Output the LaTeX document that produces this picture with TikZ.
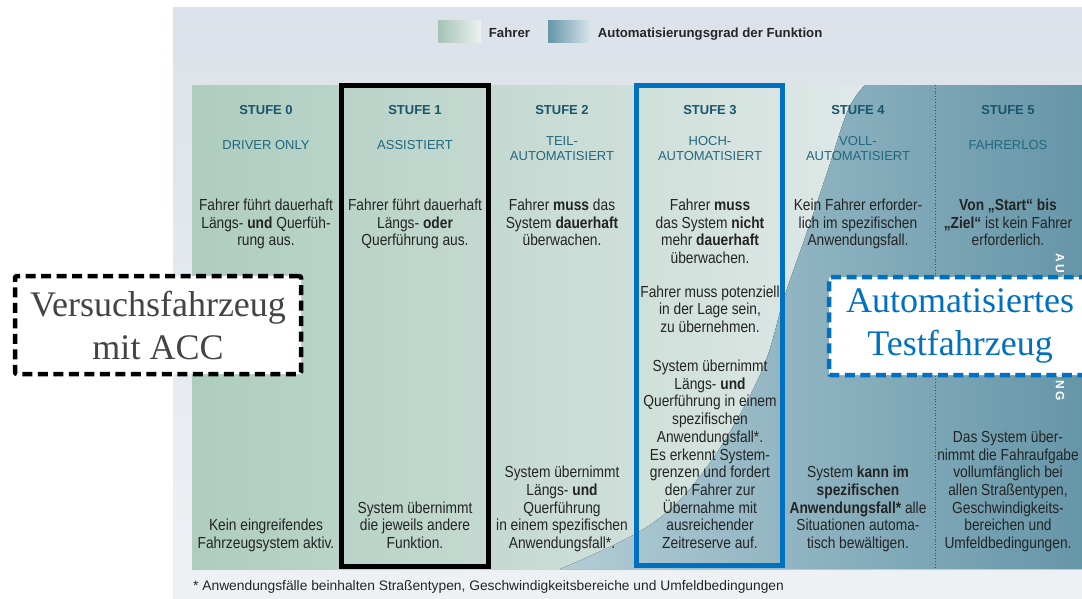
\documentclass[tikz,border=0pt]{standalone}
\usepackage{fontspec}
\setmainfont{Liberation Sans}
\newfontfamily\schmal[FakeStretch=0.86]{Liberation Sans}
\newfontfamily\gesperrt[LetterSpace=18]{Liberation Sans}
\newfontfamily\antiqua{Liberation Serif}
\usetikzlibrary{positioning}

\definecolor{hgoben}{HTML}{DCE2E9}
\definecolor{hgunten}{HTML}{EEF1F4}
\definecolor{gruen}{HTML}{AECDBF}
\definecolor{gruenhell}{HTML}{E0E9E8}
\definecolor{blauhell}{HTML}{B3CDD6}
\definecolor{blaudunkel}{HTML}{6596A8}
\definecolor{titelblau}{HTML}{17566C}
\definecolor{modusblau}{HTML}{22677D}
\definecolor{textgrau}{HTML}{242424}
\definecolor{rahmenblau}{HTML}{0070C0}
\definecolor{boxgrau}{HTML}{444444}

\begin{document}
\begin{tikzpicture}[
  x=1pt, y=-1pt,
  titel/.style={font=\fontsize{13}{15}\selectfont\bfseries, text=titelblau, inner sep=0pt, anchor=base},
  modus/.style={font=\fontsize{13}{15}\selectfont, text=modusblau, align=center, inner sep=0pt, anchor=base},
  beschr/.style={font=\schmal\fontsize{16}{17.7}\selectfont, text=textgrau, align=center, inner sep=0pt, anchor=base},
  fahrzeug/.style={fill=white, line width=4.5pt, dash pattern=on 10pt off 5.5pt, rounded corners=2pt, font=\antiqua\fontsize{36}{43}\selectfont, align=center, inner sep=0pt},
  feld/.style={minimum width=43pt, minimum height=22pt, inner sep=0pt},
  legende/.style={font=\fontsize{13.2}{15}\selectfont\bfseries, text=black!85, inner sep=0pt, text height=9.5pt, text depth=0pt},
]
  \useasboundingbox (0,0) rectangle (1082,598);
  \fill[white] (0,0) rectangle (1082,598);
  \fill[top color=hgoben, bottom color=hgunten] (173,7) rectangle (1082,598);

  % Spalten und Automatisierungsgrad
  \fill[left color=gruen, right color=gruenhell] (192,85) rectangle (870,569);
  \fill[left color=blauhell, right color=blaudunkel]
    plot[smooth, tension=0.6] coordinates {(560,569) (650,525) (707,467) (760,375) (785,295) (806,235) (828,170) (848,110) (865,85)}
    -- (1082,85) -- (1082,569) -- cycle;
  \draw[black!70, dotted, line width=0.8pt] (935,85) -- (935,569);
  \node[rotate=-90, text=white, font=\gesperrt\bfseries\fontsize{12}{12}\selectfont, inner sep=0pt] (randtext) at (1060,327) {AUTOMATISIERUNG};

  % Legende
  \node[feld, left color=gruen!95!black, right color=gruenhell!60!white] (fahrerfeld) at (459.5,31.7) {};
  \node[legende, right=7.5pt of fahrerfeld, yshift=-1.5pt] (fahrer) {Fahrer};
  \node[feld, left color=blaudunkel, right color=blauhell!50!white] (autofeld) at (569.5,31.7) {};
  \node[legende, right=6.5pt of autofeld, yshift=-1.5pt] (auto) {Automatisierungsgrad der Funktion};

  % Stufen
  \foreach \i/\x in {0/266,1/415,2/562,3/710,4/858,5/1008}
    \node[titel] (titel\i) at (\x,114.3) {STUFE \i};
  \node[modus] (modus0) at (266,149.3) {DRIVER ONLY};
  \node[modus] (modus1) at (415,149.3) {ASSISTIERT};
  \node[modus] (modus2) at (562,160) {TEIL-\\AUTOMATISIERT};
  \node[modus] (modus3) at (710,160) {HOCH-\\AUTOMATISIERT};
  \node[modus] (modus4) at (858,160) {VOLL-\\AUTOMATISIERT};
  \node[modus] (modus5) at (1008,149.3) {FAHRERLOS};

  \node[beschr] (s0oben) at (266,245.9) {Fahrer führt dauerhaft\\Längs- \textbf{und} Querfüh-\\rung aus.};
  \node[beschr] (s1oben) at (415,245.9) {Fahrer führt dauerhaft\\Längs- \textbf{oder}\\Querführung aus.};
  \node[beschr] (s2oben) at (562,245.9) {Fahrer \textbf{muss} das\\System \textbf{dauerhaft}\\überwachen.};
  \node[beschr] (s3oben) at (710,263.6) {Fahrer \textbf{muss}\\das System \textbf{nicht}\\mehr \textbf{dauerhaft}\\überwachen.};
  \node[beschr] (s4oben) at (858,245.9) {Kein Fahrer erforder-\\lich im spezifischen\\Anwendungsfall.};
  \node[beschr] (s5oben) at (1008,245.9) {\textbf{Von „Start“ bis}\\\textbf{„Ziel“} ist kein Fahrer\\erforderlich.};
  \node[beschr] (s3mitte) at (710,332.4) {Fahrer muss potenziell\\in der Lage sein,\\zu übernehmen.};

  \node[beschr] (s0unten) at (266,548.5) {Kein eingreifendes\\Fahrzeugsystem aktiv.};
  \node[beschr] (s1unten) at (415,548.5) {System übernimmt\\die jeweils andere\\Funktion.};
  \node[beschr] (s2unten) at (562,548.5) {System übernimmt\\Längs- \textbf{und}\\Querführung\\in einem spezifischen\\Anwendungsfall*.};
  \node[beschr] (s3unten) at (710,548.5) {System übernimmt\\Längs- \textbf{und}\\Querführung in einem\\spezifischen\\Anwendungsfall*.\\Es erkennt System-\\grenzen und fordert\\den Fahrer zur\\Übernahme mit\\ausreichender\\Zeitreserve auf.};
  \node[beschr] (s4unten) at (858,548.5) {System \textbf{kann im}\\\textbf{spezifischen}\\\textbf{Anwendungsfall*} alle\\Situationen automa-\\tisch bewältigen.};
  \node[beschr] (s5unten) at (1008,548.5) {Das System über-\\nimmt die Fahraufgabe\\vollumfänglich bei\\allen Straßentypen,\\Geschwindigkeits-\\bereichen und\\Umfeldbedingungen.};

  % Rahmen der Stufen 1 und 3
  \draw[line width=5pt] (341.5,85.5) rectangle (488,566);
  \draw[rahmenblau, line width=5pt] (636.5,85.5) rectangle (782.5,565);

  \node[font=\fontsize{13.8}{16}\selectfont, text=textgrau, anchor=base west, inner sep=0pt] (fussnote) at (193,590) {* Anwendungsfälle beinhalten Straßentypen, Geschwindigkeitsbereiche und Umfeldbedingungen};

  % Fahrzeuge
  \node[fahrzeug, draw=black, text=boxgrau, minimum width=286pt, minimum height=98pt] (acc) at (158,325) {Versuchsfahrzeug\\mit ACC};
  \node[fahrzeug, draw=rahmenblau, text=rahmenblau, minimum width=262pt, minimum height=98pt] (test) at (960,326) {Automatisiertes\\Testfahrzeug};
\end{tikzpicture}
\end{document}
